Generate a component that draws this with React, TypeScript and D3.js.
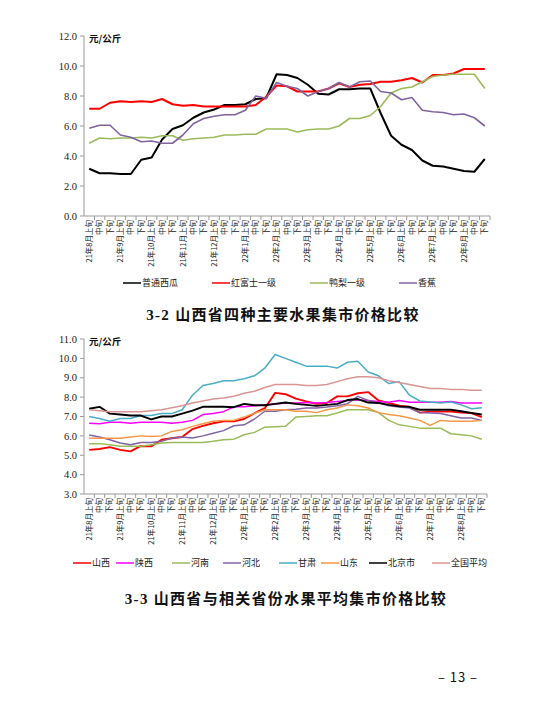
import React from 'react';
import * as d3 from 'd3';

// categories: 13 months x 3 ten-day periods
const months = ['21年8月', '21年9月', '21年10月', '21年11月', '21年12月', '22年1月', '22年2月',
  '22年3月', '22年4月', '22年5月', '22年6月', '22年7月', '22年8月'];
const periods = ['上旬', '中旬', '下旬'];
const categories = months.flatMap(m => periods.map(p => m + p));

// chart 3-2
const fruitNames = ['普通西瓜', '红富士一级', '鸭梨一级', '香蕉'];
const watermelon = [3.15, 2.85, 2.85, 2.8, 2.8, 3.75, 3.9, 5.1, 5.8, 6.05, 6.55, 6.9, 7.1, 7.4, 7.4, 7.45, 7.8, 7.85, 9.45, 9.4, 9.2,
  8.75, 8.15, 8.1, 8.45, 8.45, 8.5, 8.5, 6.85, 5.35, 4.75, 4.4, 3.7, 3.35, 3.3, 3.15, 3.0, 2.95, 3.8];
const fujiApple = [7.15, 7.15, 7.55, 7.65, 7.6, 7.65, 7.6, 7.8, 7.45, 7.35, 7.4, 7.3, 7.3, 7.3, 7.3, 7.3, 7.4, 7.95, 8.7, 8.65, 8.3,
  8.3, 8.3, 8.5, 8.85, 8.6, 8.75, 8.8, 8.95, 8.95, 9.05, 9.2, 8.9, 9.4, 9.4, 9.5, 9.8, 9.8, 9.8];
const yaPear = [4.85, 5.2, 5.15, 5.2, 5.2, 5.25, 5.2, 5.35, 5.35, 5.05, 5.15, 5.2, 5.25, 5.4, 5.4, 5.45, 5.45, 5.8, 5.8, 5.8, 5.6,
  5.75, 5.8, 5.8, 6.0, 6.5, 6.5, 6.7, 7.3, 8.2, 8.5, 8.6, 8.95, 9.3, 9.4, 9.45, 9.45, 9.45, 8.5];
const banana = [5.85, 6.05, 6.05, 5.4, 5.25, 4.95, 5.0, 4.85, 4.85, 5.4, 6.15, 6.5, 6.65, 6.75, 6.75, 7.05, 8.0, 7.85, 8.9, 8.65, 8.5,
  8.0, 8.3, 8.5, 8.9, 8.6, 8.95, 9.0, 8.3, 8.2, 7.75, 7.9, 7.05, 6.95, 6.9, 6.75, 6.8, 6.55, 6.0];
const fruitColors = ['#000000', '#ff0000', '#9bbb59', '#8064a2'];
const fruitTicks = [0, 2, 4, 6, 8, 10, 12];

// chart 3-3
const provinceNames = ['山西', '陕西', '河南', '河北', '甘肃', '山东', '北京市', '全国平均'];
const shanxi = [5.28, 5.32, 5.42, 5.28, 5.2, 5.48, 5.46, 5.8, 5.88, 5.94, 6.35, 6.52, 6.65, 6.75, 6.75, 6.87, 7.17, 7.43, 8.22, 8.15, 7.92,
  7.78, 7.66, 7.7, 8.04, 8.04, 8.2, 8.26, 7.83, 7.7, 7.56, 7.49, 7.2, 7.25, 7.25, 7.25, 7.2, 7.18, 6.97];
const shaanxi = [6.65, 6.62, 6.7, 6.7, 6.65, 6.7, 6.7, 6.7, 6.65, 6.7, 6.8, 7.1, 7.15, 7.25, 7.5, 7.5, 7.55, 7.6, 7.65, 7.7, 7.7,
  7.72, 7.7, 7.72, 7.78, 7.82, 7.87, 7.82, 7.78, 7.73, 7.83, 7.73, 7.73, 7.73, 7.73, 7.78, 7.7, 7.7, 7.7];
const henan = [5.6, 5.6, 5.54, 5.46, 5.46, 5.46, 5.54, 5.63, 5.66, 5.66, 5.66, 5.66, 5.72, 5.8, 5.83, 6.06, 6.18, 6.45, 6.47, 6.5, 6.97,
  7.0, 7.04, 7.04, 7.18, 7.35, 7.35, 7.35, 7.2, 6.8, 6.57, 6.49, 6.4, 6.4, 6.4, 6.11, 6.06, 6.0, 5.83];
const hebei = [6.05, 5.94, 5.8, 5.63, 5.54, 5.66, 5.66, 5.72, 5.89, 5.94, 5.89, 6.0, 6.14, 6.27, 6.52, 6.57, 6.87, 7.27, 7.27, 7.35, 7.38,
  7.44, 7.44, 7.49, 7.56, 7.66, 8.04, 7.83, 7.7, 7.56, 7.49, 7.44, 7.2, 7.18, 7.15, 7.04, 6.92, 6.92, 6.8];
const gansu = [7.0, 6.9, 6.75, 6.9, 6.9, 7.05, 7.05, 7.15, 7.15, 7.35, 8.1, 8.6, 8.7, 8.85, 8.85, 8.95, 9.1, 9.5, 10.2, 10.0, 9.8,
  9.6, 9.6, 9.6, 9.5, 9.8, 9.85, 9.3, 9.1, 8.7, 8.8, 8.1, 7.8, 7.75, 7.7, 7.75, 7.6, 7.4, 7.45];
const shandong = [5.88, 5.88, 5.88, 5.88, 5.94, 6.0, 5.97, 6.0, 6.23, 6.32, 6.49, 6.63, 6.75, 6.8, 6.8, 6.97, 7.17, 7.35, 7.35, 7.35, 7.27,
  7.27, 7.2, 7.35, 7.44, 7.6, 7.56, 7.44, 7.2, 7.1, 7.04, 6.92, 6.8, 6.54, 6.8, 6.75, 6.75, 6.75, 6.8];
const beijing = [7.4, 7.5, 7.15, 7.1, 7.05, 7.05, 6.85, 7.0, 7.0, 7.15, 7.3, 7.5, 7.5, 7.5, 7.48, 7.65, 7.58, 7.58, 7.65, 7.72, 7.65,
  7.6, 7.55, 7.6, 7.65, 7.85, 7.9, 7.72, 7.7, 7.6, 7.52, 7.5, 7.35, 7.35, 7.35, 7.35, 7.27, 7.18, 7.1];
const national = [7.35, 7.3, 7.25, 7.25, 7.25, 7.25, 7.3, 7.35, 7.45, 7.55, 7.7, 7.8, 7.9, 7.95, 8.05, 8.2, 8.3, 8.5, 8.65, 8.65, 8.65,
  8.6, 8.6, 8.65, 8.8, 8.95, 9.05, 9.05, 9.0, 8.85, 8.75, 8.65, 8.55, 8.45, 8.45, 8.4, 8.4, 8.35, 8.35];
const provinceColors = ['#ff0000', '#ff00ff', '#9bbb59', '#8064a2', '#4bacc6', '#f79646', '#000000', '#d99694'];
const provinceTicks = [3, 4, 5, 6, 7, 8, 9, 10, 11];

const CJK = '"Noto Sans CJK SC", sans-serif';
const SERIF = '"Liberation Serif", "Noto Sans CJK SC", serif';

type Series = { name: string; values: number[]; color: string; width: number };

function LineChart({ top, bottom, left, right, domain, ticks, series, legendY, legendX }: {
  top: number; bottom: number; left: number; right: number; domain: [number, number];
  ticks: number[]; series: Series[]; legendY: number; legendX: number[];
}) {
  const x = d3.scaleBand().domain(categories).range([left, right]).paddingInner(0).paddingOuter(0);
  const bw = x.bandwidth();
  const y = d3.scaleLinear().domain(domain).range([bottom, top]);
  const line = d3.line<number>()
    .x((_, i) => (x(categories[i]) as number) + bw / 2)
    .y(d => y(d));
  const axisColor = '#999';

  return (
    <g>
      {/* y axis */}
      <line x1={left} x2={left} y1={top} y2={bottom} stroke={axisColor} strokeWidth={1} />
      {ticks.map(t => (
        <g key={t}>
          <line x1={left - 4} x2={left} y1={y(t)} y2={y(t)} stroke={axisColor} />
          <text x={left - 7} y={y(t)} dy="0.35em" textAnchor="end" fontSize={10.5} fontFamily={SERIF} fill="#222">
            {d3.format('.1f')(t)}
          </text>
        </g>
      ))}
      <text x={left + 5} y={top + 6} fontSize={9.5} fontWeight="bold" fontFamily={CJK} fill="#111">元/公斤</text>

      {/* x axis */}
      <line x1={left} x2={right} y1={bottom} y2={bottom} stroke={axisColor} strokeWidth={1} />
      {categories.map(c => (
        <line key={'t' + c} x1={x(c)! + bw} x2={x(c)! + bw} y1={bottom} y2={bottom + 4} stroke={axisColor} />
      ))}
      {categories.map((c, i) => {
        const label = i % 3 === 0 ? c : periods[i % 3];
        return (
          <text key={'l' + c} transform={`translate(${x(c)! + bw / 2},${bottom + 4}) rotate(-90)`}
            dy="0.35em" textAnchor="end" fontSize={7.5} fontFamily={CJK} fill="#222">{label}</text>
        );
      })}

      {/* series */}
      {series.map(s => (
        <path key={s.name} d={line(s.values) || ''} fill="none" stroke={s.color} strokeWidth={s.width}
          strokeLinejoin="round" />
      ))}

      {/* legend */}
      {series.map((s, i) => (
        <g key={'lg' + s.name} transform={`translate(${legendX[i]},${legendY})`}>
          <line x1={0} x2={18} y1={0} y2={0} stroke={s.color} strokeWidth={1.5} />
          <text x={19} y={0} dy="0.35em" fontSize={9} fontFamily={CJK} fill="#222">{s.name}</text>
        </g>
      ))}
    </g>
  );
}

export default function App() {
  const fruitSeries: Series[] = [watermelon, fujiApple, yaPear, banana].map((values, i) => ({
    name: fruitNames[i], values, color: fruitColors[i], width: i < 2 ? 2 : 1.6,
  }));
  const provinceSeries: Series[] = [shanxi, shaanxi, henan, hebei, gansu, shandong, beijing, national].map((values, i) => ({
    name: provinceNames[i], values, color: provinceColors[i], width: i === 0 || i === 6 ? 1.9 : 1.5,
  }));

  return (
    <svg width={549} height={708} style={{ position: 'absolute', left: 0, top: 0, background: '#fff' }}>
      <rect width={549} height={708} fill="#fff" />
      <LineChart top={36} bottom={216} left={84} right={490} domain={[0, 12]} ticks={fruitTicks}
        series={fruitSeries} legendY={283} legendX={[123, 212, 310, 399]} />
      <text x={283} y={320} textAnchor="middle" fontSize={15} fontWeight="bold" fontFamily={SERIF}
        letterSpacing={1.3} fill="#111">3-2 山西省四种主要水果集市价格比较</text>

      <LineChart top={339} bottom={494} left={84} right={487} domain={[3, 11]} ticks={provinceTicks}
        series={provinceSeries} legendY={563} legendX={[73, 116, 172, 223, 279, 321, 369, 432]} />
      <text x={286} y={604} textAnchor="middle" fontSize={15} fontWeight="bold" fontFamily={SERIF}
        letterSpacing={1.3} fill="#111">3-3 山西省与相关省份水果平均集市价格比较</text>

      <text x={458} y={682} textAnchor="middle" fontSize={13} fontFamily={CJK} letterSpacing={1} fill="#111">– 13 –</text>
    </svg>
  );
}
